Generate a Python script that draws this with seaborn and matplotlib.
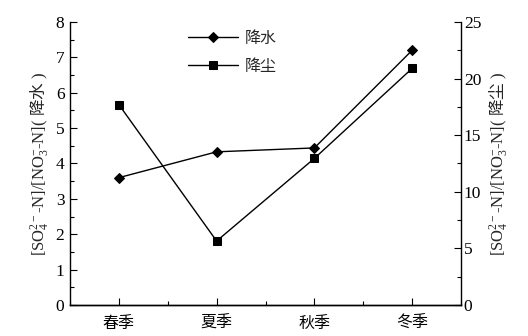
import matplotlib
matplotlib.use("Agg")
import matplotlib.pyplot as plt
import seaborn as sns
import pandas as pd
from matplotlib.ticker import MultipleLocator

seasons = ["春季", "夏季", "秋季", "冬季"]
rain = [3.6, 4.33, 4.44, 7.2]        # 降水, left axis
dust = [17.7, 5.65, 12.95, 20.9]     # 降尘, right axis

sns.set_style("ticks")
plt.rcParams['font.family'] = ['Liberation Serif', 'Noto Sans CJK SC']
plt.rcParams['mathtext.fontset'] = 'custom'
plt.rcParams['mathtext.rm'] = 'Liberation Serif'
plt.rcParams['mathtext.it'] = 'Liberation Serif:italic'
plt.rcParams['mathtext.sf'] = 'Noto Sans CJK SC'
plt.rcParams['font.size'] = 12.5

df = pd.DataFrame({"season": seasons, "x": range(4), "rain": rain, "dust": dust})

fig = plt.figure(figsize=(5.28, 3.36), dpi=100)
ax = fig.add_axes([0.1326, 0.0923, 0.7405, 0.8422])
ax2 = ax.twinx()

sns.lineplot(data=df, x="x", y="rain", ax=ax, color="black", lw=1,
             marker="D", markersize=5, markeredgecolor="black", label="降水")
sns.lineplot(data=df, x="x", y="dust", ax=ax2, color="black", lw=1,
             marker="s", markersize=6, markeredgecolor="black", label="降尘")

ax.set_xlim(-0.5, 3.5)
ax.set_ylim(0, 8)
ax2.set_ylim(0, 25)
ax.set_xticks(range(4))
ax.set_xticklabels(seasons, fontsize=11.5)
ax.xaxis.set_minor_locator(MultipleLocator(0.5))
ax.yaxis.set_major_locator(MultipleLocator(1))
ax.yaxis.set_minor_locator(MultipleLocator(0.5))
ax2.yaxis.set_major_locator(MultipleLocator(5))
ax2.yaxis.set_minor_locator(MultipleLocator(2.5))

for a in (ax, ax2):
    a.spines['top'].set_visible(False)
    for s in a.spines.values():
        s.set_linewidth(1)
        s.set_color("black")
    a.tick_params(which="both", direction="in", colors="black", width=0.8)
    a.tick_params(which="major", length=5)
    a.tick_params(which="minor", length=3)
ax.tick_params(axis="x", which="major", pad=8)
ax.tick_params(axis="y", which="major", pad=4)
ax2.tick_params(axis="y", which="major", pad=2)
ax2.spines['left'].set_visible(False)
ax.spines['right'].set_visible(False)

ax.set_xlabel("")
ax.set_ylabel(r"$\mathrm{[SO_4^{2-}\text{-}N]/[NO_3^{-}\text{-}N]}(\ \mathsf{降水}\ )$",
              fontsize=12, labelpad=4)
ax2.set_ylabel(r"$\mathrm{[SO_4^{2-}\text{-}N]/[NO_3^{-}\text{-}N]}(\ \mathsf{降尘}\ )$",
               fontsize=12, labelpad=4)

h1, l1 = ax.get_legend_handles_labels()
h2, l2 = ax2.get_legend_handles_labels()
ax2.get_legend().remove()
ax.get_legend().remove()
ax.legend(h1 + h2, l1 + l2, loc="upper left", bbox_to_anchor=(0.265, 1.02),
          frameon=False, handlelength=3.1, handletextpad=0.45,
          fontsize=11.5, labelspacing=0.75)

fig.savefig("out.png", dpi=100)
